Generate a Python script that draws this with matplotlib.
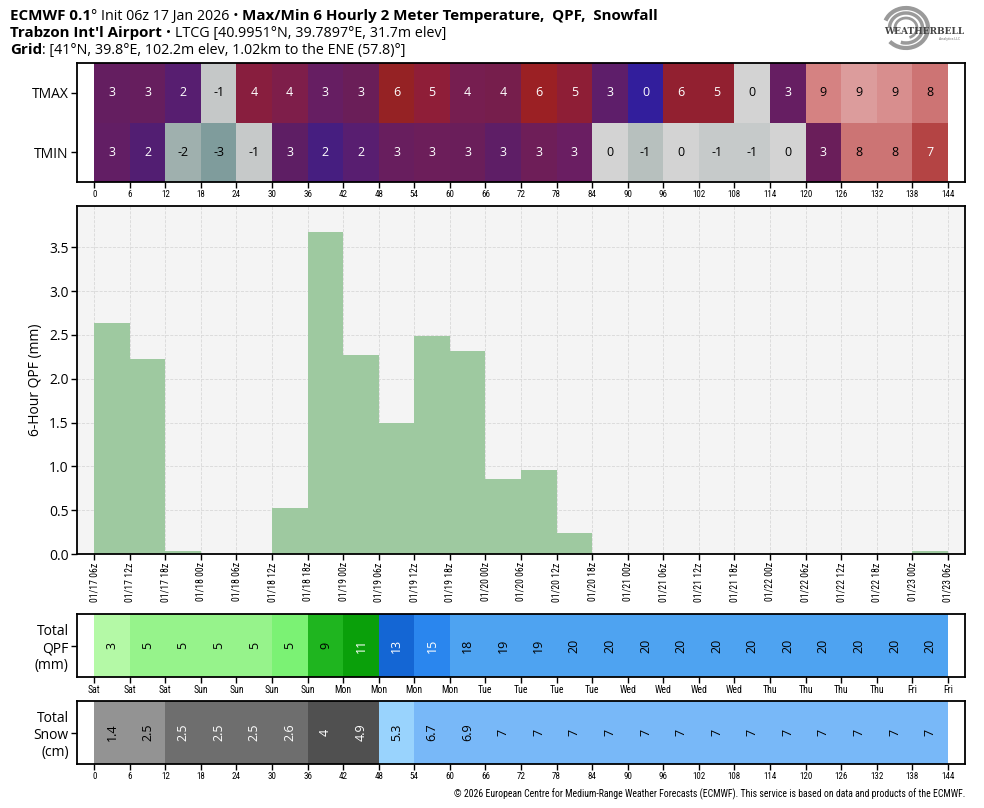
import datetime as dt
import numpy as np
import matplotlib
matplotlib.use("Agg")
import matplotlib.pyplot as plt
from matplotlib import font_manager
from matplotlib.patches import Arc

# ---------------- data ----------------
hours = list(range(0, 145, 6))               # forecast hours (tick positions)
cell_start = list(range(0, 144, 6))          # 24 six-hour periods
tmax = [3, 3, 2, -1, 4, 4, 3, 3, 6, 5, 4, 4, 6, 5, 3, 0, 6, 5, 0, 3, 9, 9, 9, 8]
tmin = [3, 2, -2, -3, -1, 3, 2, 2, 3, 3, 3, 3, 3, 3, 0, -1, 0, -1, -1, 0, 3, 8, 8, 7]
qpf6 = [2.63, 2.22, 0.03, 0.0, 0.0, 0.52, 3.67, 2.27, 1.50, 2.49, 2.32, 0.86,
        0.96, 0.24, 0.0, 0.0, 0.0, 0.0, 0.0, 0.0, 0.0, 0.0, 0.0, 0.03]
total_qpf = [3, 5, 5, 5, 5, 5, 9, 11, 13, 15, 18, 19, 19, 20, 20, 20, 20, 20, 20, 20, 20, 20, 20, 20]
total_snow = ["1.4", "2.5", "2.5", "2.5", "2.5", "2.6", "4", "4.9", "5.3", "6.7", "6.9",
              "7", "7", "7", "7", "7", "7", "7", "7", "7", "7", "7", "7", "7"]
init_time = dt.datetime(2026, 1, 17, 6)
valid_labels = [(init_time + dt.timedelta(hours=h)).strftime("%m/%d %Hz") for h in hours]
day_labels = [(init_time + dt.timedelta(hours=h)).strftime("%a") for h in hours]
hour_labels = [str(h) for h in hours]

# ---------------- styles ----------------
tmax_colors = ["#641e60", "#661e5e", "#571e70", "#c5c8c8", "#881e3e", "#7e1e4a", "#661e62", "#6a1e58",
               "#952224", "#8f1e38", "#761e50", "#761e4c", "#9b2024", "#8e1e36", "#5e1e6a", "#321e9c",
               "#922030", "#922030", "#d3d3d3", "#661e62", "#d58282", "#dc9c9c", "#d88e8e", "#cd7474"]
tmin_colors = ["#621e64", "#521e72", "#9fb0ae", "#7f9c9c", "#c6c9c9", "#5e1e64", "#461e80", "#581e70",
               "#681e5e", "#6c1e5a", "#6a1e5a", "#5e1e66", "#6e1e58", "#6a1e62", "#d3d3d3", "#b7c0be",
               "#d3d3d3", "#c6caca", "#c6caca", "#d3d3d3", "#6a1e5a", "#cc7474", "#cc7474", "#b44444"]
qpf_colors = ["#b4f9a6"] + ["#96f38b"] * 4 + ["#7bf274", "#1fb51f", "#0aa00a", "#1466d4", "#2a86ee"] + ["#4ea3f1"] * 14
qpf_text = ["black"] * 7 + ["white"] * 3 + ["black"] * 14
snow_colors = ["#939393"] * 2 + ["#6e6e6e"] * 4 + ["#505050"] * 2 + ["#99d3fd"] + ["#78b8f8"] * 15
snow_text = ["black"] * 2 + ["white"] * 6 + ["black"] * 16

fl = font_manager.fontManager.ttflist
avail = {f.name for f in fl}
bold_ok = {f.name for f in fl if (f.weight if isinstance(f.weight, int) else 400) >= 600 or f.weight == "bold"}
MAIN = next((n for n in ["Noto Sans", "Open Sans", "Lato", "DejaVu Sans"] if n in avail and n in bold_ok), "DejaVu Sans")
NARROW = next((n for n in ["Liberation Sans Narrow", "DejaVu Sans Condensed", "Roboto Condensed"] if n in avail), MAIN)
plt.rcParams["font.family"] = [MAIN, "DejaVu Sans"]


def text_color(hexc):
    r, g, b = matplotlib.colors.to_rgb(hexc)
    return "black" if (0.299 * r + 0.587 * g + 0.114 * b) > 0.5 else "white"


W, H = 984, 808
fig = plt.figure(figsize=(W / 100, H / 100), dpi=100)


def ax_rect(left, top, right, bottom):
    return [left / W, 1 - bottom / H, (right - left) / W, (bottom - top) / H]


XL = (-2.9, 146.9)
SP = 1.3

# ---------------- temperature panel ----------------
axT = fig.add_axes(ax_rect(77, 63, 965, 182))
axT.bar(np.array(cell_start) + 3, 1, width=6, bottom=1, color=tmax_colors, linewidth=0)
axT.bar(np.array(cell_start) + 3, 1, width=6, bottom=0, color=tmin_colors, linewidth=0)
for x, v, c in zip(cell_start, tmax, tmax_colors):
    axT.text(x + 3, 1.5, str(v), ha="center", va="center", fontsize=9, color=text_color(c))
for x, v, c in zip(cell_start, tmin, tmin_colors):
    axT.text(x + 3, 0.5, str(v), ha="center", va="center", fontsize=9, color=text_color(c))
axT.set_xlim(*XL)
axT.set_ylim(0, 2)
axT.set_yticks([1.5, 0.5])
axT.set_yticklabels(["TMAX", "TMIN"], fontsize=10)
axT.set_xticks(hours)
axT.set_xticklabels(hour_labels, fontsize=6.5, family=NARROW)

# ---------------- 6-hour QPF panel ----------------
axQ = fig.add_axes(ax_rect(77, 206, 965, 554))
axQ.set_facecolor("#f4f4f4")
axQ.set_axisbelow(True)
axQ.grid(True, color="#d8d8d8", linestyle="--", linewidth=0.6)
axQ.bar(np.array(cell_start) + 3, qpf6, width=6, color="#9ec9a0", linewidth=0)
axQ.set_xlim(*XL)
axQ.set_ylim(0, 3.97)
axQ.set_yticks(np.arange(0, 3.51, 0.5))
axQ.set_yticklabels([f"{v:.1f}" for v in np.arange(0, 3.51, 0.5)], fontsize=10)
axQ.set_xticks(hours)
axQ.set_xticklabels(valid_labels, rotation=90, fontsize=7, family=NARROW)
axQ.set_ylabel("6-Hour QPF (mm)", fontsize=10)

# ---------------- total QPF panel ----------------
axP = fig.add_axes(ax_rect(77, 614, 965, 677))
axP.bar(np.array(cell_start) + 3, 1, width=6, color=qpf_colors, linewidth=0)
for x, v, c in zip(cell_start, total_qpf, qpf_text):
    axP.text(x + 3, 0.5, str(v), ha="center", va="center", rotation=90, fontsize=9, color=c)
axP.set_xlim(*XL)
axP.set_ylim(0, 1)
axP.set_yticks([0.5])
axP.set_yticklabels(["Total\nQPF\n(mm)"], fontsize=10, multialignment="right")
axP.set_xticks(hours)
axP.set_xticklabels(day_labels, fontsize=7, family=NARROW)

# ---------------- total snow panel ----------------
axS = fig.add_axes(ax_rect(77, 701, 965, 764))
axS.bar(np.array(cell_start) + 3, 1, width=6, color=snow_colors, linewidth=0)
for x, v, c in zip(cell_start, total_snow, snow_text):
    axS.text(x + 3, 0.5, v, ha="center", va="center", rotation=90, fontsize=9, color=c)
axS.set_xlim(*XL)
axS.set_ylim(0, 1)
axS.set_yticks([0.5])
axS.set_yticklabels(["Total\nSnow\n(cm)"], fontsize=10, multialignment="right")
axS.set_xticks(hours)
axS.set_xticklabels(hour_labels, fontsize=6.5, family=NARROW)

for a in (axT, axQ, axP, axS):
    for s in a.spines.values():
        s.set_linewidth(SP)
    a.tick_params(axis="both", length=4, width=1, pad=2)

# ---------------- title lines ----------------
renderer = fig.canvas.get_renderer()


def rich(x_px, y_px, parts):
    x = x_px / W
    for s, w, size in parts:
        t = fig.text(x, 1 - y_px / H, s, fontsize=size, fontweight=w, va="baseline", ha="left")
        bb = t.get_window_extent(renderer)
        x += bb.width / W


B, R = 10.9, 10.3
rich(10, 20, [("ECMWF 0.1", "bold", B), ("° Init 06z 17 Jan 2026 • ", "normal", R),
              ("Max/Min 6 Hourly 2 Meter Temperature,  QPF,  Snowfall", "bold", B)])
rich(10, 37, [("Trabzon Int'l Airport", "bold", B), (" • LTCG [40.9951°N, 39.7897°E, 31.7m elev]", "normal", R)])
rich(10, 54, [("Grid", "bold", B), (": [41°N, 39.8°E, 102.2m elev, 1.02km to the ENE (57.8)°]", "normal", R)])

# ---------------- logo ----------------
axL = fig.add_axes(ax_rect(876, 4, 968, 56))
axL.set_xlim(0, 92)
axL.set_ylim(52, 0)
axL.axis("off")
for (w, h, th1, th2, lw) in [(44, 40, 200, 500, 3), (33, 30, 180, 470, 2.5), (22, 20, 160, 430, 2)]:
    axL.add_patch(Arc((30, 24), w, h, theta1=th1, theta2=th2, color="#9a9a9a", lw=lw))
axL.text(48, 28, "WEATHERBELL", fontsize=6.5, family="DejaVu Serif", color="#444444",
         ha="center", va="center", fontweight="bold")
axL.text(74, 35, "Analytics LLC", fontsize=2.5, color="#666666", ha="center", va="center")

# ---------------- footer ----------------
fig.text(965 / W, 1 - 797 / H,
         "© 2026 European Centre for Medium-Range Weather Forecasts (ECMWF). This service is based on data and products of the ECMWF.",
         fontsize=7, family=NARROW, ha="right", va="baseline")

fig.savefig("out.png", dpi=100)
